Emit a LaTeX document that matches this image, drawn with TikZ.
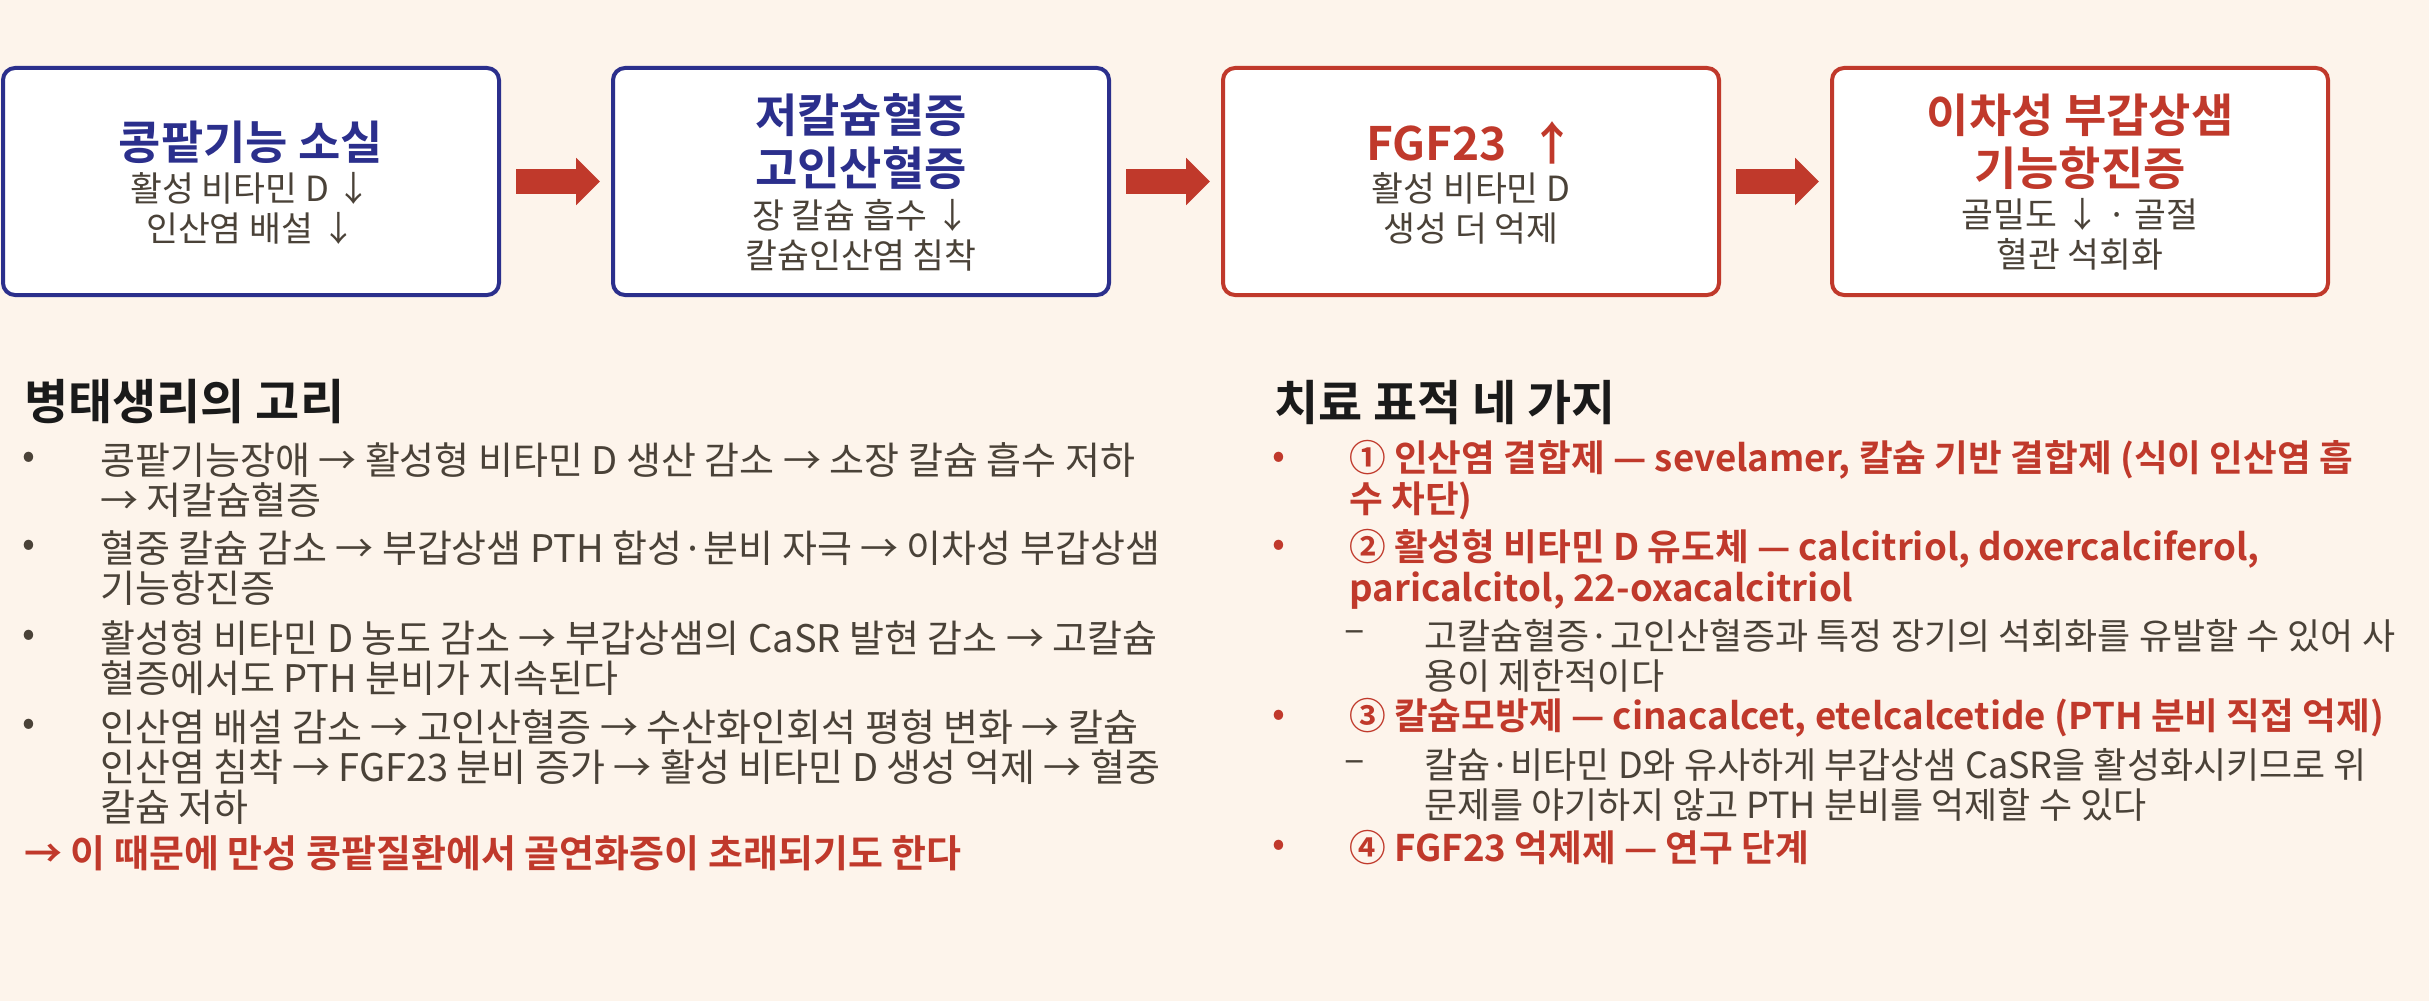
\documentclass[tikz,border=0pt]{standalone}
\usepackage{fontspec}
\setmainfont{Noto Sans CJK KR}[BoldFont={Noto Sans CJK KR Bold}]
\usetikzlibrary{arrows.meta}

\definecolor{bgcream}{RGB}{253,244,235}
\definecolor{navyline}{RGB}{43,47,140}
\definecolor{redline}{RGB}{192,57,43}
\definecolor{bodygray}{RGB}{74,66,56}
\definecolor{headblack}{RGB}{26,26,26}

\newcommand{\bodysize}{\fontsize{11.4pt}{12pt}\selectfont}
\newcommand{\notesize}{\fontsize{10.8pt}{12pt}\selectfont}
\newcommand{\keysize}{\fontsize{11pt}{12.4pt}\selectfont}
\newcommand{\subsize}{\fontsize{10.4pt}{12pt}\selectfont}
\newcommand{\titlesize}{\fontsize{13.8pt}{15.9pt}\selectfont}
\newcommand{\headsize}{\fontsize{14.4pt}{17pt}\selectfont}

\tikzset{every picture/.style={line width=0.75pt},
	stepbox/.style={draw=#1, fill=white, line width=1.2pt, rounded corners=3.6pt, minimum width=148.8pt, minimum height=68.1pt, inner sep=0pt},
	flowarrow/.style={draw=redline, line width=7.5pt, -{Triangle[length=7.2pt,width=13.8pt]}, shorten <=4.5pt, shorten >=3.3pt},
	boxtitle/.style={text=#1, font=\titlesize\bfseries, align=center, inner sep=0pt},
	boxsub/.style={text=bodygray, font=\subsize, align=center, inner sep=0pt},
	sechead/.style={text=headblack, font=\headsize\bfseries, anchor=west, inner sep=0pt},
	bodytext/.style={text=bodygray, font=\bodysize, align=left, anchor=west, inner sep=0pt},
	notetext/.style={bodytext, font=\notesize},
	keytext/.style={text=redline, font=\bodysize\bfseries, align=left, anchor=west, inner sep=0pt},
	keyitem/.style={keytext, font=\keysize\bfseries},
	dot/.style={text=#1, font=\bodysize, inner sep=0pt}
}

\begin{document}
\begin{tikzpicture}[x=0.3pt,y=0.3pt,yscale=-1,xscale=1]
	\useasboundingbox (0,0) rectangle (2429,1001);
	%Shape: Background
	\fill[bgcream] (0,0) rectangle (2429,1001);

	%Shape: Rectangle [flow boxes]
	\node[stepbox=navyline] (ckd) at (251,181.5) {};
	\node[stepbox=navyline] (hypo) at (861,181.5) {};
	\node[stepbox=redline] (fgf) at (1471,181.5) {};
	\node[stepbox=redline] (shpt) at (2080,181.5) {};

	%Straight Lines [block arrows]
	\draw[flowarrow] (ckd) -- (hypo);
	\draw[flowarrow] (hypo) -- (fgf);
	\draw[flowarrow] (fgf) -- (shpt);

	% Text Node
	\node[boxtitle=navyline] (ckdT) at (251,142) {콩팥기능 소실};
	\node[boxsub] (ckdS) at (251,208) {활성 비타민 D ↓\\인산염 배설 ↓};
	% Text Node
	\node[boxtitle=navyline] (hypoT) at (861,141.5) {저칼슘혈증\\고인산혈증};
	\node[boxsub] (hypoS) at (861,235) {장 칼슘 흡수 ↓\\칼슘인산염 침착};
	% Text Node
	\node[boxtitle=redline] (fgfT) at (1471,143) {FGF23\enspace↑};
	\node[boxsub] (fgfS) at (1471,208) {활성 비타민 D\\생성 더 억제};
	% Text Node
	\node[boxtitle=redline] (shptT) at (2080,141.5) {이차성 부갑상샘\\기능항진증};
	\node[boxsub] (shptS) at (2080,234) {골밀도 ↓ · 골절\\혈관 석회화};

	% Text Node [left column]
	\node[sechead] (loopH) at (23,402) {병태생리의 고리};
	\node[dot=bodygray] (loopB1) at (29,460) {•};
	\node[bodytext] (loop1) at (99,480) {콩팥기능장애 → 활성형 비타민 D 생산 감소 → 소장 칼슘 흡수 저하\\→ 저칼슘혈증};
	\node[dot=bodygray] (loopB2) at (29,548) {•};
	\node[bodytext] (loop2) at (99,568) {혈중 칼슘 감소 → 부갑상샘 PTH 합성·분비 자극 → 이차성 부갑상샘\\기능항진증};
	\node[dot=bodygray] (loopB3) at (29,638) {•};
	\node[bodytext] (loop3) at (99,658) {활성형 비타민 D 농도 감소 → 부갑상샘의 CaSR 발현 감소 → 고칼슘\\혈증에서도 PTH 분비가 지속된다};
	\node[dot=bodygray] (loopB4) at (29,727) {•};
	\node[bodytext] (loop4) at (99,767) {인산염 배설 감소 → 고인산혈증 → 수산화인회석 평형 변화 → 칼슘\\인산염 침착 → FGF23 분비 증가 → 활성 비타민 D 생성 억제 → 혈중\\칼슘 저하};
	\node[keytext] (loopEnd) at (23,853) {→ 이 때문에 만성 콩팥질환에서 골연화증이 초래되기도 한다};

	% Text Node [right column]
	\node[sechead] (tgtH) at (1273,402) {치료 표적 네 가지};
	\node[dot=redline] (tgtB1) at (1279,460) {•};
	\node[keyitem] (tgt1) at (1348,480) {① 인산염 결합제 — sevelamer, 칼슘 기반 결합제 (식이 인산염 흡\\수 차단)};
	\node[dot=redline] (tgtB2) at (1279,548) {•};
	\node[keyitem] (tgt2) at (1348,569) {② 활성형 비타민 D 유도체 — calcitriol, doxercalciferol,\\paricalcitol, 22-oxacalcitriol};
	\node[dot=bodygray] (tgtD2) at (1355,637) {–};
	\node[notetext] (tgt2note) at (1423,656) {고칼슘혈증·고인산혈증과 특정 장기의 석회화를 유발할 수 있어 사\\용이 제한적이다};
	\node[dot=redline] (tgtB3) at (1279,718) {•};
	\node[keyitem] (tgt3) at (1348,718) {③ 칼슘모방제 — cinacalcet, etelcalcetide (PTH 분비 직접 억제)};
	\node[dot=bodygray] (tgtD3) at (1355,767) {–};
	\node[notetext] (tgt3note) at (1423,785) {칼슘·비타민 D와 유사하게 부갑상샘 CaSR을 활성화시키므로 위\\문제를 야기하지 않고 PTH 분비를 억제할 수 있다};
	\node[dot=redline] (tgtB4) at (1279,848) {•};
	\node[keyitem] (tgt4) at (1348,848) {④ FGF23 억제제 — 연구 단계};

\end{tikzpicture}
\end{document}
